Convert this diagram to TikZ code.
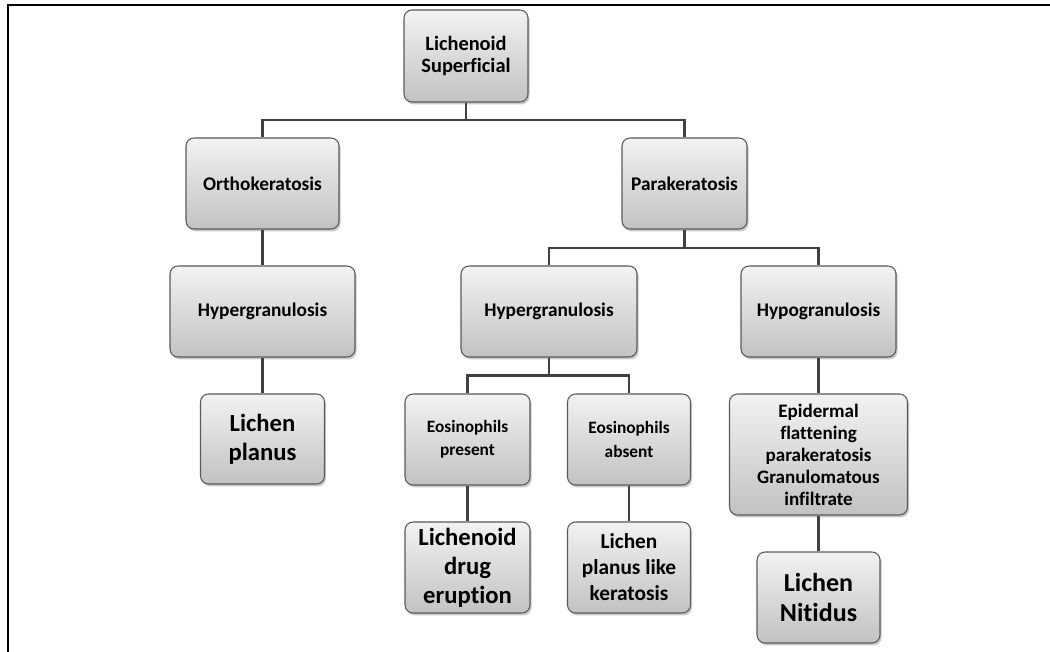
\documentclass[tikz,border=0pt]{standalone}
\usepackage{fontspec}
\setmainfont{Carlito}[Ligatures=NoCommon]
\usetikzlibrary{shadows,calc}
\definecolor{boxline}{HTML}{5A5A5A}
\definecolor{wire}{HTML}{404040}
\newcommand{\fs}[2]{\fontsize{#1}{#2}\selectfont\bfseries}
\begin{document}
\begin{tikzpicture}[x=0.75pt,y=-0.75pt,
  box/.style={draw=boxline,line width=0.8pt,rounded corners=6pt,
    top color=white!95!black,bottom color=black!24,
    drop shadow={shadow xshift=1.2pt,shadow yshift=-1.8pt,opacity=0.35,fill=black!60},
    align=center,inner sep=1pt,font=\fs{14.5}{16.5}},
  bigbox/.style={box,font=\fs{18.5}{21.75}},
  sz/.style n args={2}{minimum width=#1*0.75pt,minimum height=#2*0.75pt},
  wire/.style={draw=wire,line width=2.2pt}]
\useasboundingbox (0,0) rectangle (1050,652);
\fill[white] (0,0) rectangle (1050,652);
% frame
\draw[line width=2.2pt] (1050,5) -- (8,5) -- (8,652);

% boxes
\node[box,sz={124}{92},font=\fs{15.3}{16}] (top) at (466,56) {Lichenoid\\Superficial};
\node[box,sz={153}{91}] (ortho) at (262.5,183.5) {Orthokeratosis};
\node[box,sz={125}{91}] (para) at (684.5,183.5) {Parakeratosis};
\node[box,sz={185}{91}] (hypL) at (262.5,311.5) {Hypergranulosis};
\node[box,sz={176}{91}] (hypM) at (549,311.5) {Hypergranulosis};
\node[box,sz={155}{91}] (hypo) at (818.5,311.5) {Hypogranulosis};
\node[bigbox,sz={124}{90}] (lp) at (262.5,439) {Lichen\\planus};
\node[box,sz={125}{91},font=\fs{13}{17.5}] (eosP) at (467.5,439.5) {Eosinophils\\present};
\node[box,sz={123}{91},font=\fs{13}{17.5}] (eosA) at (629,439.5) {Eosinophils\\absent};
\node[bigbox,sz={125}{91}] (drug) at (467.5,567.5) {Lichenoid\\drug\\eruption};
\node[box,sz={123}{91},font=\fs{16}{19.5}] (lplk) at (629,567.5) {Lichen\\planus like\\keratosis};
\node[box,sz={178}{121},font=\fs{14.3}{16.5}] (epi) at (818.5,454.5) {Epidermal\\flattening\\parakeratosis\\Granulomatous\\infiltrate};
\node[bigbox,sz={123}{91},font=\fs{19.5}{22.5}] (nit) at (818.5,597.5) {Lichen\\Nitidus};

% junction points of the branching connectors
\coordinate (bus1) at (466,120);
\coordinate (bus2) at (684.5,248);
\coordinate (bus3) at (549,375.5);

% connectors
\draw[wire] (top.south) -- (bus1);
\draw[wire] (ortho.north) |- (bus1) -| (para.north);
\draw[wire] (para.south) -- (bus2);
\draw[wire] (hypM.north) |- (bus2) -| (hypo.north);
\draw[wire] (hypM.south) -- (bus3);
\draw[wire] (eosP.north) |- (bus3) -| (eosA.north);
\draw[wire] (ortho.south) -- (hypL.north);
\draw[wire] (hypL.south) -- (lp.north);
\draw[wire] (eosP.south) -- (drug.north);
\draw[wire] (eosA.south) -- (lplk.north);
\draw[wire] (hypo.south) -- (epi.north);
\draw[wire] (epi.south) -- (nit.north);
\end{tikzpicture}
\end{document}
